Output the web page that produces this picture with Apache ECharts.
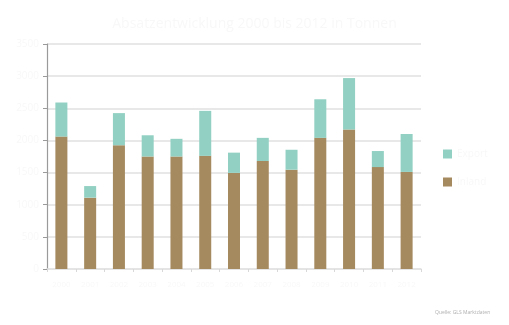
<!DOCTYPE html>
<html>
<head>
<meta charset="utf-8">
<script src="https://cdn.jsdelivr.net/npm/echarts@6/dist/echarts.min.js"></script>
<style>
html,body{margin:0;padding:0;background:#fff;}
#chart{width:509px;height:325px;}
</style>
</head>
<body>
<div id="chart"></div>
<script>
// Categories and values
var categories = ['2000','2001','2002','2003','2004','2005','2006','2007','2008','2009','2010','2011','2012'];
var inland = [2060,1110,1925,1750,1750,1760,1495,1680,1545,2040,2170,1585,1510];
var export_ = [530,180,500,330,275,700,315,360,310,600,800,250,590];

// very pale text colour used for titles, legend and axis labels
var faint = '#f8f8f8';
var chart = echarts.init(document.getElementById('chart'));
chart.setOption({
  animation: false,
  backgroundColor: '#ffffff',
  title: [{
    text: 'Absatzentwicklung 2000 bis 2012 in Tonnen',
    left: 'center', top: 12,
    textStyle: {color: faint, fontSize: 14, fontWeight: 'normal', fontFamily: 'Open Sans'}
  }, {
    text: 'Quelle: GLS Marktdaten',
    left: 430, top: 305,
    textStyle: {color: '#b0b0b0', fontSize: 5, fontWeight: 'normal', fontFamily: 'Open Sans'}
  }],
  legend: {
    orient: 'vertical', left: 438, top: 144,
    itemWidth: 9, itemHeight: 9, itemGap: 18,
    icon: 'rect',
    textStyle: {color: faint, fontSize: 10, fontFamily: 'Open Sans'},
    data: ['Export', 'Inland']
  },
  grid: {left: 47, right: 88, top: 44, bottom: 56},
  xAxis: {
    type: 'category',
    data: categories,
    axisLine: {lineStyle: {color: '#e2e2e2', width: 1.5}},
    axisTick: {show: true, length: 3, lineStyle: {color: '#d8d8d8'}},
    axisLabel: {color: faint, fontSize: 8, margin: 12, interval: 0, fontFamily: 'Open Sans'}
  },
  yAxis: {
    type: 'value', min: 0, max: 3500, interval: 500,
    axisLine: {show: true, lineStyle: {color: '#9a9a9a', width: 1.2}},
    axisTick: {show: true, length: 4, lineStyle: {color: '#9a9a9a'}},
    axisLabel: {color: faint, fontSize: 10, margin: 8, fontFamily: 'Open Sans',
      formatter: function (v) { return String(v); }},
    splitLine: {lineStyle: {color: '#e0e0e0', width: 1.5}}
  },
  series: [{
    name: 'Inland', type: 'bar', stack: 'total',
    data: inland, barWidth: 12,
    itemStyle: {color: '#a5895f'}
  }, {
    name: 'Export', type: 'bar', stack: 'total',
    data: export_, barWidth: 12,
    itemStyle: {color: '#91d0c2'}
  }]
});
</script>
</body>
</html>
